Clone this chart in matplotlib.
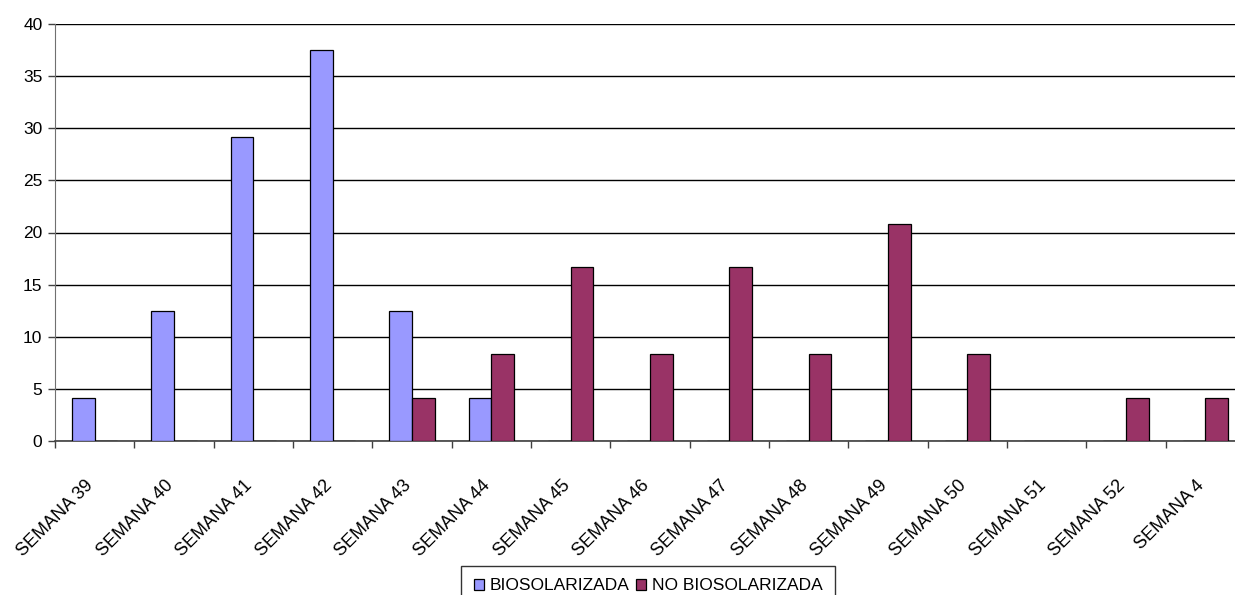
import numpy as np
import matplotlib.pyplot as plt
from matplotlib.ticker import FixedLocator

plt.rcParams['font.family'] = ['Liberation Sans', 'DejaVu Sans']

semanas = ['SEMANA 39', 'SEMANA 40', 'SEMANA 41', 'SEMANA 42', 'SEMANA 43',
           'SEMANA 44', 'SEMANA 45', 'SEMANA 46', 'SEMANA 47', 'SEMANA 48',
           'SEMANA 49', 'SEMANA 50', 'SEMANA 51', 'SEMANA 52', 'SEMANA 4']
biosolarizada = [4.17, 12.5, 29.17, 37.5, 12.5, 4.17, 0, 0, 0, 0, 0, 0, 0, 0, 0]
no_biosolarizada = [0, 0, 0, 0, 4.17, 8.33, 16.67, 8.33, 16.67, 8.33, 20.83, 8.33, 0, 4.17, 4.17]

W, H = 1235, 595
fig = plt.figure(figsize=(W / 100, H / 100), dpi=100)
# plot area runs a little past the right edge of the figure
ax = fig.add_axes([55 / W, (H - 441) / H, (1245 - 55) / W, (441 - 24) / H])

n = len(semanas)
x = np.arange(n)
bw = 1 / 3.5          # gap width 150%
off = 0.75 * bw

ax.bar(x + off, biosolarizada, width=bw, align='edge', color='#9999FF',
       edgecolor='black', linewidth=0.9, label='BIOSOLARIZADA', zorder=3)
ax.bar(x + off + bw, no_biosolarizada, width=bw, align='edge', color='#993366',
       edgecolor='black', linewidth=0.9, label='NO BIOSOLARIZADA', zorder=3)

ax.set_xlim(0, n)
ax.set_ylim(0, 40)
ax.set_yticks(np.arange(0, 41, 5))
ax.yaxis.grid(True, color='black', linewidth=1.0, zorder=0)

# boundary ticks without labels, category names under each group
ax.set_xticks(np.arange(n + 1))
ax.set_xticklabels([])
ax.xaxis.set_minor_locator(FixedLocator(x + 0.38))
ax.set_xticklabels(semanas, minor=True, rotation=45, ha='right', va='top',
                   rotation_mode='anchor', fontsize=13)
ax.tick_params(axis='x', which='minor', length=0, pad=26)
ax.tick_params(axis='x', which='major', length=5, width=1, color='#404040', direction='out')
ax.tick_params(axis='y', length=5, width=1, color='#404040', direction='out', labelsize=12.5, pad=4)

for s in ['top', 'right']:
    ax.spines[s].set_visible(False)
ax.spines['left'].set_color('#707070')
ax.spines['bottom'].set_color('#404040')
ax.spines['bottom'].set_linewidth(1.2)

leg = fig.legend(loc='upper center', bbox_to_anchor=(648 / W, (H - 566) / H), ncol=2,
                 frameon=True, fancybox=False, edgecolor='black', fontsize=12.5,
                 handlelength=0.6, handleheight=0.6, handletextpad=0.3,
                 columnspacing=0.4, borderpad=0.7, borderaxespad=0)
leg.get_frame().set_linewidth(1.0)

plt.savefig('out.png', dpi=100)
plt.close()
